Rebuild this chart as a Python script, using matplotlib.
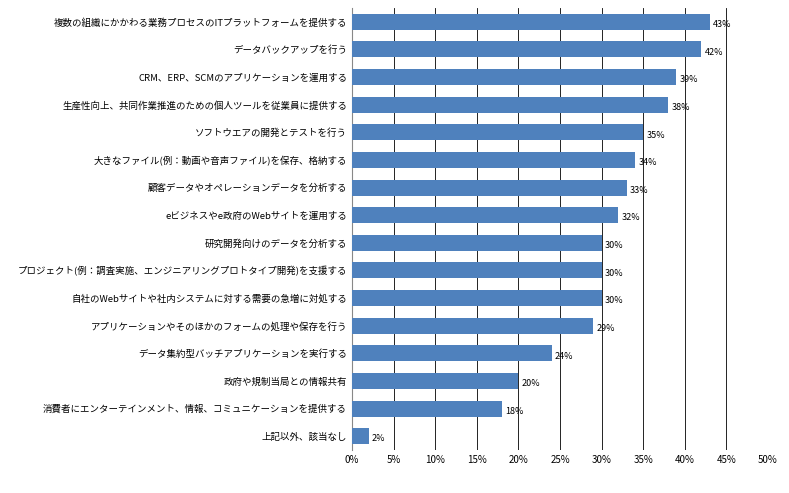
import matplotlib.pyplot as plt
from matplotlib.ticker import PercentFormatter

plt.rcParams['font.family'] = ['Noto Sans CJK JP', 'DejaVu Sans']

labels = [
    '複数の組織にかかわる業務プロセスのITプラットフォームを提供する',
    'データバックアップを行う',
    'CRM、ERP、SCMのアプリケーションを運用する',
    '生産性向上、共同作業推進のための個人ツールを従業員に提供する',
    'ソフトウエアの開発とテストを行う',
    '大きなファイル(例：動画や音声ファイル)を保存、格納する',
    '顧客データやオペレーションデータを分析する',
    'eビジネスやe政府のWebサイトを運用する',
    '研究開発向けのデータを分析する',
    'プロジェクト(例：調査実施、エンジニアリングプロトタイプ開発)を支援する',
    '自社のWebサイトや社内システムに対する需要の急増に対処する',
    'アプリケーションやそのほかのフォームの処理や保存を行う',
    'データ集約型バッチアプリケーションを実行する',
    '政府や規制当局との情報共有',
    '消費者にエンターテインメント、情報、コミュニケーションを提供する',
    '上記以外、該当なし',
]
values = [43, 42, 39, 38, 35, 34, 33, 32, 30, 30, 30, 29, 24, 20, 18, 2]

fig = plt.figure(figsize=(7.89, 4.93), dpi=100)
ax = fig.add_axes([352 / 789, 43 / 493, 416 / 789, 442 / 493])

y = list(range(len(values)))
ax.barh(y, values, height=0.58, color='#4F81BD', zorder=3)
for yi, v in zip(y, values):
    ax.text(v + 0.4, yi + 0.1, f'{v}%', va='center', ha='left', fontsize=6.5, zorder=4)

ax.set_yticks(y)
ax.set_yticklabels(labels, fontsize=6.8)
ax.set_ylim(len(values) - 0.5, -0.5)
ax.set_xlim(0, 50)
ax.set_xticks(range(0, 51, 5))
ax.xaxis.set_major_formatter(PercentFormatter(decimals=0))
ax.tick_params(axis='x', labelsize=7, length=0)
ax.tick_params(axis='y', length=0)
ax.grid(axis='x', color='#000000', linewidth=0.6, zorder=0)
for side in ['top', 'right', 'bottom']:
    ax.spines[side].set_visible(False)
ax.spines['left'].set_color('#888888')

fig.savefig('out.png', dpi=100)
